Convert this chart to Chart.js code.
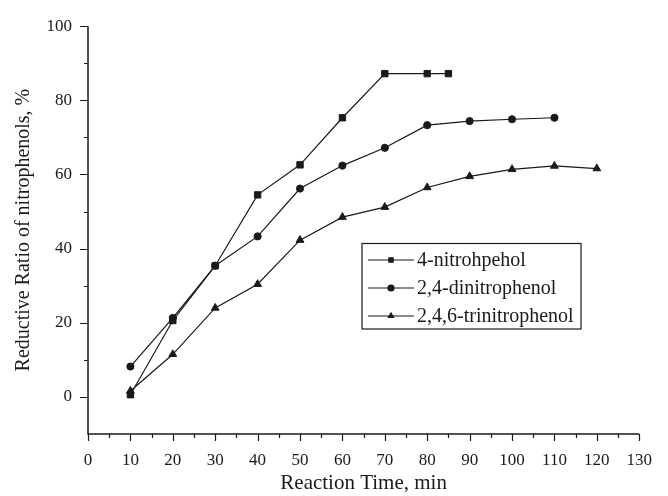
<!DOCTYPE html>
<html>
<head>
<meta charset="utf-8">
<script src="https://cdn.jsdelivr.net/npm/chart.js@4"></script>
<style>
  html, body { margin: 0; padding: 0; background: #fff; }
  #wrap { width: 668px; height: 496px; }
</style>
</head>
<body>
<div id="wrap"><canvas id="chart" width="668" height="496"></canvas></div>
<script>
// data
const timeNitro = [10, 20, 30, 40, 50, 60, 70, 80, 85];
const nitro = [0.6, 20.6, 35.4, 54.5, 62.6, 75.3, 87.2, 87.2, 87.2];

const timeDinitro = [10, 20, 30, 40, 50, 60, 70, 80, 90, 100, 110];
const dinitro = [8.2, 21.3, 35.4, 43.3, 56.2, 62.4, 67.2, 73.3, 74.4, 74.9, 75.3];

const timeTrinitro = [10, 20, 30, 40, 50, 60, 70, 80, 90, 100, 110, 120];
const trinitro = [1.6, 11.5, 24.0, 30.4, 42.3, 48.5, 51.2, 56.5, 59.5, 61.4, 62.3, 61.6];

const seriesNames = ["4-nitrohpehol", "2,4-dinitrophenol", "2,4,6-trinitrophenol"];
const yTicks = [0, 20, 40, 60, 80, 100];

const FONT = '"Liberation Serif", "DejaVu Serif", serif';
const INK = "#1a1a1a";

function pts(xs, ys) {
  return xs.map((x, i) => ({ x: x, y: ys[i] }));
}

function makeSet(label, data, style, r) {
  return {
    label: label,
    data: data,
    borderColor: INK,
    backgroundColor: INK,
    borderWidth: 1.2,
    pointStyle: style,
    pointRadius: r,
    pointBorderWidth: 1,
    pointBorderColor: INK,
    pointBackgroundColor: INK,
    tension: 0
  };
}

// axis lines plus major/minor tick marks, drawn outward
const tickMarks = {
  id: "tickMarks",
  afterDraw(chart) {
    const c = chart.ctx;
    const xs = chart.scales.x, ys = chart.scales.y;
    const a = chart.chartArea;
    c.save();
    c.strokeStyle = INK;
    c.lineWidth = 1.5;
    c.beginPath();
    c.moveTo(a.left, a.top);
    c.lineTo(a.left, a.bottom);
    c.lineTo(a.right, a.bottom);
    c.stroke();
    c.lineWidth = 1.2;
    c.beginPath();
    for (let v = 0; v <= 130; v += 5) {
      const px = Math.round(xs.getPixelForValue(v)) + 0.5;
      const len = v % 10 === 0 ? 7 : 4;
      c.moveTo(px, a.bottom);
      c.lineTo(px, a.bottom + len);
    }
    for (let v = 0; v <= 100; v += 10) {
      const py = Math.round(ys.getPixelForValue(v)) + 0.5;
      const len = v % 20 === 0 ? 8 : 4;
      c.moveTo(a.left, py);
      c.lineTo(a.left - len, py);
    }
    c.stroke();
    c.restore();
  }
};

// legend box inside the plot
const boxLegend = {
  id: "boxLegend",
  afterDraw(chart) {
    const c = chart.ctx;
    c.save();
    c.strokeStyle = INK;
    c.lineWidth = 1.2;
    c.strokeRect(362, 243.5, 219, 85.5);
    c.font = "20px " + FONT;
    c.textBaseline = "middle";
    c.fillStyle = INK;
    chart.data.datasets.forEach((ds, i) => {
      const y = 260 + i * 28;
      c.beginPath();
      c.moveTo(368, y);
      c.lineTo(414, y);
      c.stroke();
      Chart.helpers.drawPoint(c, {
        pointStyle: ds.pointStyle,
        rotation: 0,
        radius: 3,
        borderWidth: 1
      }, 391, y);
      c.fill();
      c.fillText(seriesNames[i], 417, y + 1);
    });
    c.restore();
  }
};

new Chart(document.getElementById("chart"), {
  type: "line",
  data: {
    datasets: [
      makeSet(seriesNames[0], pts(timeNitro, nitro), "rect", 4.5),
      makeSet(seriesNames[1], pts(timeDinitro, dinitro), "circle", 3.6),
      makeSet(seriesNames[2], pts(timeTrinitro, trinitro), "triangle", 4.5)
    ]
  },
  options: {
    responsive: false,
    animation: false,
    layout: { padding: { top: 22, right: 19, left: 0, bottom: 0 } },
    plugins: {
      legend: { display: false },
      tooltip: { enabled: false }
    },
    scales: {
      x: {
        type: "linear",
        min: 0,
        max: 130,
        afterFit(s) { s.height = 62; },
        grid: { display: false, drawTicks: false },
        border: { display: false },
        ticks: {
          stepSize: 10,
          padding: 16,
          maxRotation: 0,
          autoSkip: false,
          color: INK,
          font: { family: FONT, size: 17 }
        },
        title: {
          display: true,
          text: "Reaction Time, min",
          color: INK,
          padding: { top: 0, bottom: 0 },
          font: { family: FONT, size: 21 }
        }
      },
      y: {
        type: "linear",
        min: -10,
        max: 100,
        afterFit(s) { s.width = 88; },
        afterBuildTicks(s) { s.ticks = yTicks.map(v => ({ value: v })); },
        grid: { display: false, drawTicks: false },
        border: { display: false },
        ticks: {
          padding: 16,
          color: INK,
          font: { family: FONT, size: 17 }
        },
        title: {
          display: true,
          text: "Reductive Ratio of nitrophenols, %",
          color: INK,
          padding: { top: 12, bottom: 0 },
          font: { family: FONT, size: 20 }
        }
      }
    }
  },
  plugins: [tickMarks, boxLegend]
});
</script>
</body>
</html>
